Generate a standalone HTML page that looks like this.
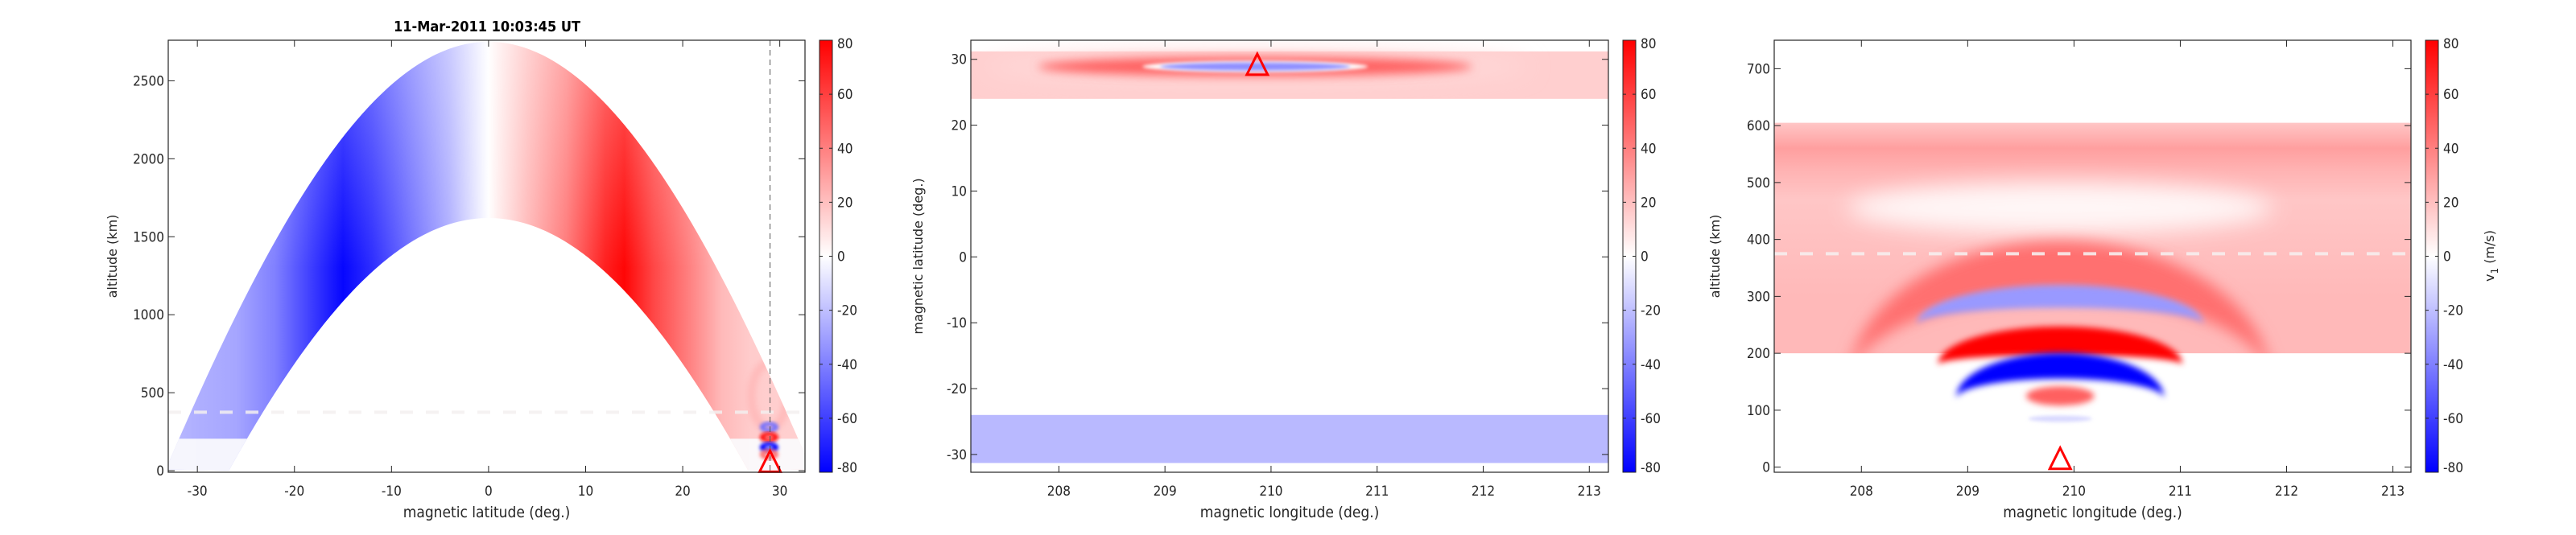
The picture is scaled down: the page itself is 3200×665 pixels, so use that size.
<!DOCTYPE html>
<html><head><meta charset="utf-8"><style>
html,body{margin:0;padding:0;background:#fff;}
svg{display:block;}
.tk{font-family:"Liberation Sans Narrow","DejaVu Sans Condensed","Liberation Sans",sans-serif;font-size:17px;fill:#262626;}
.lb{font-family:"DejaVu Sans","Liberation Sans",sans-serif;font-size:16px;fill:#262626;}
.xl{font-family:"Liberation Sans Narrow","DejaVu Sans Condensed","Liberation Sans",sans-serif;font-size:19px;fill:#262626;}
</style></head><body>
<svg id="fig" width="3200" height="665" viewBox="0 0 3200 665" xmlns="http://www.w3.org/2000/svg">
<defs>
<filter id="b1" x="-50%" y="-50%" width="200%" height="200%"><feGaussianBlur stdDeviation="6"/></filter>
<filter id="b2" x="-50%" y="-50%" width="200%" height="200%"><feGaussianBlur stdDeviation="2"/></filter>
<filter id="b4" x="-50%" y="-50%" width="200%" height="200%"><feGaussianBlur stdDeviation="4"/></filter>
<filter id="b5" x="-50%" y="-50%" width="200%" height="200%"><feGaussianBlur stdDeviation="9"/></filter>
<filter id="b3" x="-50%" y="-50%" width="200%" height="200%"><feGaussianBlur stdDeviation="14"/></filter>
<linearGradient id="cbar" x1="0" y1="1" x2="0" y2="0">
<stop offset="0" stop-color="#0000ff"/><stop offset="0.5" stop-color="#ffffff"/><stop offset="1" stop-color="#ff0000"/>
</linearGradient>
</defs>
<text x="605" y="39" text-anchor="middle" style="font-family:'DejaVu Sans Condensed','Liberation Sans Narrow',sans-serif;font-weight:bold;font-size:18px;fill:#000">11-Mar-2011 10:03:45 UT</text>
<g id="p1"></g>
<g id="p2"></g>
<g id="p3"></g>
</svg>
<script>
// ---------- data ----------
const cbarTicks = [-80,-60,-40,-20,0,20,40,60,80];
// panel 1: velocity along latitude in the flux-tube band
const p1LatStops = [-33,-30,-26,-22,-18,-15,-12,-8,-4,-1,0,1,4,8,12,14,17,21,24,27,30,33];
const p1Values   = [-22,-25,-28,-40,-62,-78,-66,-45,-25,-6,0,6,22,42,70,78,58,38,22,16,15,15];
const p1OuterApex = 2750, p1InnerApex = 1620, p1FadeAlt = 205;
const p1XTicks = [-30,-20,-10,0,10,20,30];
const p1YTicks = [0,500,1000,1500,2000,2500];
const p1WaveLat = 28.9;
const p1WaveAlt = [480,300,235,170,125];
const p1WaveVal = [22,-45,75,-80,45];
// panel 2: lon-lat slice at 375 km
const p2XTicks = [208,209,210,211,212,213];
const p2YTicks = [-30,-20,-10,0,10,20,30];
const p2North = [24,31.2], p2NorthVal = 15;
const p2South = [-31.3,-24], p2SouthVal = -22;
const p2RingLon = 209.85, p2RingLat = 28.9;
const p2RingVal = [50,0,-35];
// panel 3: lon-alt slice
const p3XTicks = [208,209,210,211,212,213];
const p3YTicks = [0,100,200,300,400,500,600,700];
const p3Band = [200,605], p3BandVal = 18;
const p3ArcPeak  = [350,300,222,178];
const p3ArcBase  = [140,250,180,120];
const p3ArcVal   = [45,-32,80,-80];
const p3ArcRx    = [2.0,1.35,1.15,0.98];
const p3ArcThick = [95,40,50,45];
const p3BlobAlt = 125, p3BlobVal = 50;
const srcLon = 209.87, srcLat = 29;
const vLineLat = 29, dashAlt = 375;

// ---------- helpers ----------
const NS="http://www.w3.org/2000/svg";
function mk(parent,tag,attrs){const e=document.createElementNS(NS,tag);for(const k in attrs)e.setAttribute(k,attrs[k]);parent.appendChild(e);return e;}
function col(v){v=Math.max(-80,Math.min(80,v));let r,g,b;
 if(v<0){const t=1+v/80;r=g=Math.round(255*t);b=255;}else{const t=1-v/80;r=255;g=b=Math.round(255*t);}return `rgb(${r},${g},${b})`;}
function lin(d0,d1,r0,r1){return v=>r0+(v-d0)*(r1-r0)/(d1-d0);}
const defs=document.querySelector('defs');

function axesFrame(g,id,L,R,T,B,sx,sy,xt,yt,xlab,ylab,ylx){
  const cb={x:R+18,w:16};
  const box=mk(g,'rect',{x:L,y:T,width:R-L,height:B-T,fill:'none',stroke:'#262626','stroke-width':1.2});
  
  
  xt.forEach(v=>{const x=sx(v);
    mk(g,'line',{x1:x,y1:B,x2:x,y2:B-8,stroke:'#262626'});
    mk(g,'line',{x1:x,y1:T,x2:x,y2:T+8,stroke:'#262626'});
    const t=mk(g,'text',{x:x,y:B+29,'text-anchor':'middle',class:'tk'});t.textContent=v;
    
    
  });
  yt.forEach(v=>{const y=sy(v);
    mk(g,'line',{x1:L,y1:y,x2:L+8,y2:y,stroke:'#262626'});
    mk(g,'line',{x1:R,y1:y,x2:R-8,y2:y,stroke:'#262626'});
    const t=mk(g,'text',{x:L-5,y:y+6,'text-anchor':'end',class:'tk'});t.textContent=v;
    
    
  });
  const xl=mk(g,'text',{x:(L+R)/2,y:643,'text-anchor':'middle',class:'xl'});xl.textContent=xlab;
  
  
  const yl=mk(g,'text',{x:ylx,y:(T+B)/2,'text-anchor':'middle',class:'lb',transform:`rotate(-90 ${ylx} ${(T+B)/2})`});yl.textContent=ylab;
  
  
  const cg=mk(g,'g',{});
  
  
  mk(cg,'rect',{x:cb.x,y:T,width:cb.w,height:B-T,fill:'url(#cbar)',stroke:'#262626','stroke-width':1});
  const cy=lin(-80,80,B,T);
  cbarTicks.forEach(v=>{const y=cy(v);
    mk(cg,'line',{x1:cb.x,y1:y,x2:cb.x+4,y2:y,stroke:'#262626'});
    mk(cg,'line',{x1:cb.x+cb.w,y1:y,x2:cb.x+cb.w-4,y2:y,stroke:'#262626'});
    const t=mk(cg,'text',{x:cb.x+cb.w+6,y:y+(v===80?10:v===-80?0:6),class:'tk'});t.textContent=v;
    
    
  });
  return cb;
}
function clipRect(id,L,R,T,B){const c=mk(defs,'clipPath',{id:id});mk(c,'rect',{x:L,y:T,width:R-L,height:B-T});}
function triangle(g,x,yb){const t=mk(g,'path',{d:`M${x-13},${yb} L${x+13},${yb} L${x},${yb-26} Z`,fill:'none',stroke:'#ff0000','stroke-width':3});
  
  }

// ---------- panel 1 ----------
(function(){
 const g=document.getElementById('p1');
 const L=209,R=1000,T=50,B=587;
 const sx=lin(-33,32.6,L,R), sy=lin(-10,2760,B,T);
 clipRect('c1',L,R,T,B);
 const RE=6371;
 function fl(apex){const Lr=RE+apex;const pts=[];for(let lat=-40;lat<=40;lat+=0.25){const c=Math.cos(lat*Math.PI/180);const alt=Lr*c*c-RE;if(alt>=0)pts.push([lat,alt]);}return pts;}
 const outer=fl(p1OuterApex), inner=fl(p1InnerApex);
 let d='M'+outer.map(p=>sx(p[0])+','+sy(p[1])).join(' L');
 d+=' L'+sx(inner[inner.length-1][0])+','+sy(0);
 d+=' L'+inner.slice().reverse().map(p=>sx(p[0])+','+sy(p[1])).join(' L')+' Z';
 const cp=mk(defs,'clipPath',{id:'arch'});mk(cp,'path',{d:d});
 const gr=mk(defs,'linearGradient',{id:'g1',gradientUnits:'userSpaceOnUse',x1:sx(-33),y1:0,x2:sx(33),y2:0});
 p1LatStops.forEach((la,i)=>mk(gr,'stop',{offset:(la+33)/66,'stop-color':col(p1Values[i])}));
 const wg=mk(defs,'linearGradient',{id:'gw',gradientUnits:'userSpaceOnUse',x1:0,y1:sy(2750),x2:0,y2:sy(1300)});
 mk(wg,'stop',{offset:0,'stop-color':'#fff','stop-opacity':0.35});
 mk(wg,'stop',{offset:1,'stop-color':'#fff','stop-opacity':0});
 const wrap=mk(g,'g',{'clip-path':'url(#c1)'});
 const band=mk(wrap,'g',{'clip-path':'url(#arch)'});
 
 
 mk(band,'rect',{x:L,y:T,width:R-L,height:B-T,fill:'url(#g1)'});
 mk(band,'rect',{x:L,y:T,width:R-L,height:B-T,fill:'url(#gw)'});
 mk(band,'rect',{x:L,y:sy(p1FadeAlt),width:R-L,height:B-sy(p1FadeAlt),fill:'#fbfbfd',opacity:0.93});
 const wx=sx(p1WaveLat);
 p1WaveAlt.forEach((a,i)=>{const e=mk(band,'ellipse',{cx:wx,cy:sy(a)+(i===0?0:4),rx:i===0?22:9,ry:i===0?40:4,fill:'none',stroke:col(p1WaveVal[i]),'stroke-width':i===0?10:5,filter:i===0?'url(#b4)':'url(#b2)'});
   
   });
 const dl=mk(wrap,'line',{x1:L,y1:sy(dashAlt),x2:R,y2:sy(dashAlt),stroke:'#f4f0f0','stroke-width':4,'stroke-dasharray':'16 16',opacity:0.85});
 
 
 const vl=mk(g,'line',{x1:sx(vLineLat),y1:T,x2:sx(vLineLat),y2:B,stroke:'#555','stroke-width':1,'stroke-dasharray':'7 5'});
 
 
 triangle(g,sx(srcLat),sy(-7));
 axesFrame(g,1,L,R,T,B,sx,sy,p1XTicks,p1YTicks,'magnetic latitude (deg.)','altitude (km)',145);
})();

// ---------- panel 2 ----------
(function(){
 const g=document.getElementById('p2');
 const L=1206,R=1998,T=50,B=587;
 const sx=lin(207.17,213.18,L,R), sy=lin(-32.7,32.9,B,T);
 clipRect('c2',L,R,T,B);
 const w=mk(g,'g',{'clip-path':'url(#c2)'});
 const n=mk(w,'rect',{x:L,y:sy(p2North[1]),width:R-L,height:sy(p2North[0])-sy(p2North[1]),fill:col(p2NorthVal)});
 
 
 const s=mk(w,'rect',{x:L,y:sy(p2South[1]),width:R-L,height:sy(p2South[0])-sy(p2South[1]),fill:col(p2SouthVal)});
 
 
 const cx=sx(p2RingLon), cy=sy(p2RingLat);
 const rg=mk(w,'g',{});
 
 
 mk(rg,'ellipse',{cx:cx,cy:cy,rx:340,ry:19,fill:col(12),filter:'url(#b3)'});
 mk(rg,'ellipse',{cx:cx,cy:cy,rx:270,ry:12,fill:col(p2RingVal[0]),filter:'url(#b1)'});
 mk(rg,'ellipse',{cx:cx,cy:cy,rx:140,ry:7,fill:col(p2RingVal[1]),filter:'url(#b2)'});
 mk(rg,'ellipse',{cx:cx,cy:cy,rx:118,ry:5,fill:col(p2RingVal[2]),filter:'url(#b2)'});
 triangle(g,sx(srcLon),sy(29)+11);
 axesFrame(g,2,L,R,T,B,sx,sy,p2XTicks,p2YTicks,'magnetic longitude (deg.)','magnetic latitude (deg.)',1146);
})();

// ---------- panel 3 ----------
(function(){
 const g=document.getElementById('p3');
 const L=2204,R=2995,T=50,B=587;
 const sx=lin(207.18,213.17,L,R), sy=lin(-9,750,B,T);
 clipRect('c3',L,R,T,B);
 const w=mk(g,'g',{'clip-path':'url(#c3)'});
 const bg=mk(defs,'linearGradient',{id:'g3',gradientUnits:'userSpaceOnUse',x1:0,y1:sy(605),x2:0,y2:sy(200)});
 [[605,18],[560,30],[520,24],[470,18],[300,22],[200,22]].forEach(s=>mk(bg,'stop',{offset:(605-s[0])/405,'stop-color':col(s[1])}));
 const bd=mk(w,'rect',{x:L,y:sy(p3Band[1]),width:R-L,height:sy(p3Band[0])-sy(p3Band[1]),fill:'url(#g3)'});
 
 
 const kx=(R-L)/(213.17-207.18), ky=(B-T)/759;
 const cx=sx(srcLon);
 const bandClip=mk(defs,'clipPath',{id:'c3b'});mk(bandClip,'rect',{x:L,y:sy(p3Band[1]),width:R-L,height:sy(p3Band[0])-sy(p3Band[1])});
 const aw=mk(w,'g',{'clip-path':'url(#c3b)'});
 mk(aw,'ellipse',{cx:cx,cy:sy(455),rx:2.0*kx,ry:45*ky,fill:'#fff',opacity:0.85,filter:'url(#b3)'});
 const fw=mk(w,'g',{});
 p3ArcPeak.forEach((pk,i)=>{
   const rx=p3ArcRx[i]*kx, cyy=sy(p3ArcBase[i]);
   const ryo=(pk+p3ArcThick[i]/2-p3ArcBase[i])*ky, ryi=(pk-p3ArcThick[i]/2-p3ArcBase[i])*ky;
   const a=mk(i===0?aw:fw,'path',{d:`M${cx-rx},${cyy} A${rx},${ryo} 0 0 1 ${cx+rx},${cyy} A${rx},${ryi} 0 0 0 ${cx-rx},${cyy} Z`,fill:col(p3ArcVal[i]),filter:i===0?'url(#b5)':'url(#b4)'});
   
   
 });
 const bl=mk(fw,'ellipse',{cx:cx,cy:sy(p3BlobAlt),rx:0.32*kx,ry:17*ky,fill:col(p3BlobVal),filter:'url(#b4)'});
 
 
 mk(fw,'ellipse',{cx:cx,cy:sy(85),rx:0.3*kx,ry:4,fill:col(-12),filter:'url(#b2)'});
 const dl=mk(w,'line',{x1:L,y1:sy(dashAlt),x2:R,y2:sy(dashAlt),stroke:'#f7eeee','stroke-width':4,'stroke-dasharray':'16 16',opacity:0.9});
 
 
 triangle(g,sx(srcLon),sy(-3));
 axesFrame(g,3,L,R,T,B,sx,sy,p3XTicks,p3YTicks,'magnetic longitude (deg.)','altitude (km)',2136);
 const t=mk(g,'text',{x:3098,y:318,'text-anchor':'middle',class:'lb',transform:'rotate(-90 3098 318)'});
 
 
 t.innerHTML='v<tspan dy="5" font-size="12">1</tspan><tspan dy="-5"> (m/s)</tspan>';
})();
</script>
</body></html>
